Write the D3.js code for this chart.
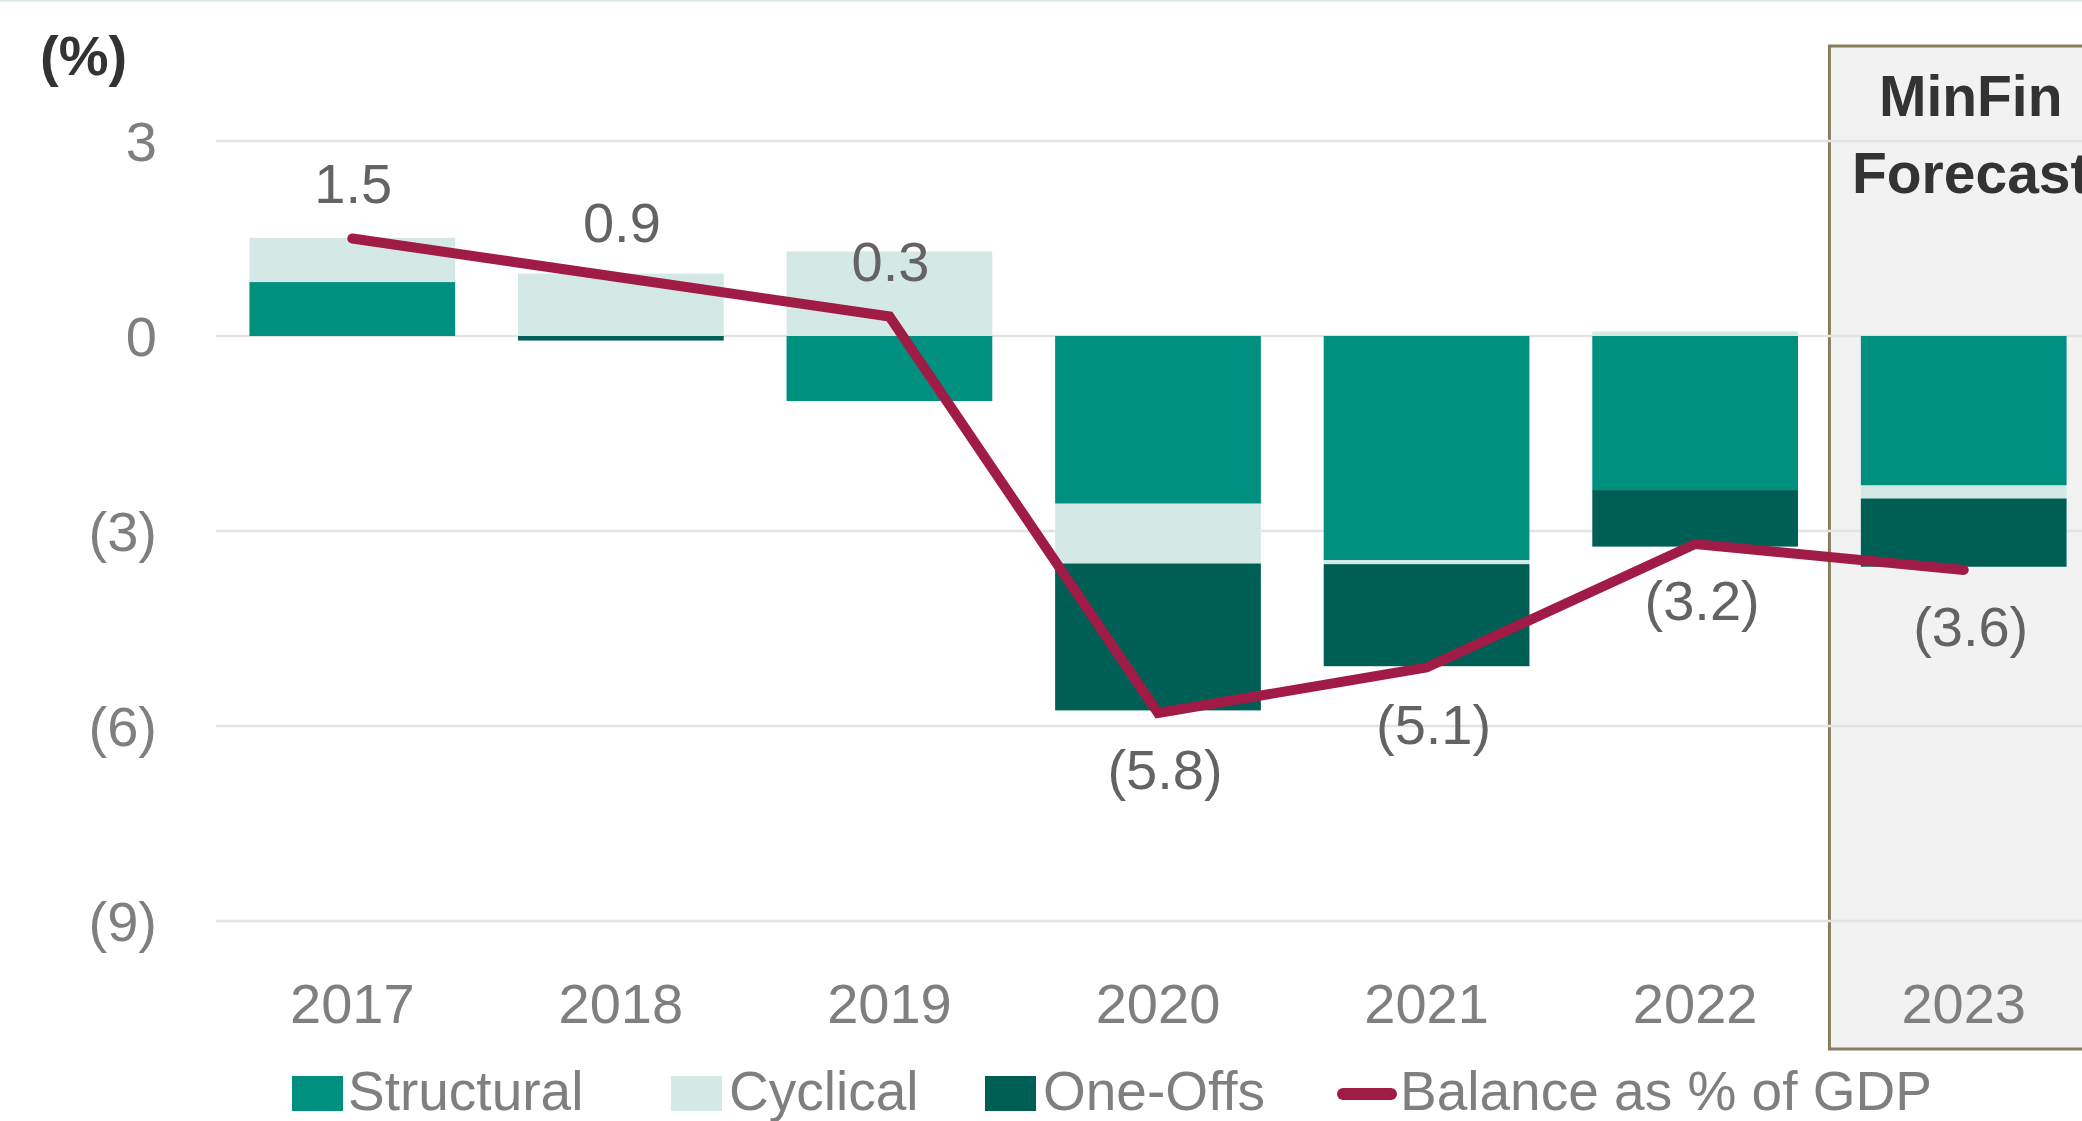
<!DOCTYPE html>
<html>
<head>
<meta charset="utf-8">
<script src="https://cdn.jsdelivr.net/npm/d3@7"></script>
<style>
  html, body { margin: 0; padding: 0; background: #ffffff; overflow: hidden; }
  svg { display: block; }
  text { font-family: "Liberation Sans", Arial, sans-serif; }
</style>
</head>
<body>
<script>
// ---- Data ----
const years = ["2017", "2018", "2019", "2020", "2021", "2022", "2023"];
const structural = [0.83, 0.0, -1.0, -2.58, -3.45, -2.37, -2.30];
const cyclical   = [0.68, 0.96, 1.30, -0.92, -0.06, 0.07, -0.20];
const oneOffs    = [0.0, -0.07, 0.0, -2.26, -1.57, -0.87, -1.05];
const balance    = [1.5, 0.9, 0.3, -5.8, -5.1, -3.2, -3.6];
const balanceLabels = ["1.5", "0.9", "0.3", "(5.8)", "(5.1)", "(3.2)", "(3.6)"];
const yTicks = [3, 0, -3, -6, -9];
const yTickLabels = ["3", "0", "(3)", "(6)", "(9)"];
const seriesNames = ["Structural", "Cyclical", "One-Offs"];
const lineName = "Balance as % of GDP";
const forecastYears = ["2023"];
const forecastTitle = ["MinFin", "Forecast"];

// ---- Styles ----
const W = 2082, H = 1121;
const colors = { Structural: "#00907F", Cyclical: "#D4E9E6", "One-Offs": "#005F54" };
const lineColor = "#A01C46";
const fontSize = 56;

const svg = d3.select("body").append("svg").attr("width", W).attr("height", H);

const x = d3.scaleBand().domain(years).range([218, 2098]).paddingInner(0.234).paddingOuter(0.117);
const y = d3.scaleLinear().domain([-9, 3]).range([921, 141]);

// top thin line
svg.append("line").attr("x1", 0).attr("x2", W).attr("y1", 0.5).attr("y2", 0.5)
  .attr("stroke", "#D4E9E6").attr("stroke-width", 2);

// forecast box
const fx0 = x(forecastYears[0]) - x.step() * x.paddingInner() / 2;
svg.append("rect").attr("x", fx0).attr("y", 46).attr("width", W - fx0 + 10).attr("height", 1049 - 46)
  .attr("fill", "#F2F2F2").attr("stroke", "#877D60").attr("stroke-width", 3);
forecastTitle.forEach((t, i) => {
  svg.append("text").attr("x", x(forecastYears[0]) + x.bandwidth() / 2 + 7).attr("y", 116 + i * 77)
    .attr("text-anchor", "middle").attr("font-size", 57).attr("font-weight", "bold")
    .attr("fill", "#333333").text(t);
});

// gridlines
svg.append("g").selectAll("line").data(yTicks).join("line")
  .attr("x1", 216).attr("x2", W).attr("y1", d => y(d)).attr("y2", d => y(d))
  .attr("stroke", "#E3E3E3").attr("stroke-width", 2.5);

// y tick labels
svg.append("g").selectAll("text").data(yTicks).join("text")
  .attr("x", 157).attr("y", d => y(d)).attr("dy", "0.36em")
  .attr("text-anchor", "end").attr("font-size", fontSize).attr("fill", "#7F7F7F")
  .text((d, i) => yTickLabels[i]);

// unit label
svg.append("text").attr("x", 40).attr("y", 75).attr("font-size", 56).attr("font-weight", "bold")
  .attr("fill", "#333333").text("(%)");

// stacked bars
const rows = years.map((yr, i) => ({ year: yr, Structural: structural[i], Cyclical: cyclical[i], "One-Offs": oneOffs[i] }));
const stack = d3.stack().keys(seriesNames).offset(d3.stackOffsetDiverging);
const stacked = stack(rows);
svg.append("g").selectAll("g").data(stacked).join("g")
  .attr("fill", d => colors[d.key])
  .selectAll("rect").data(d => d).join("rect")
  .attr("x", d => x(d.data.year)).attr("width", x.bandwidth())
  .attr("y", d => y(Math.max(d[0], d[1])))
  .attr("height", d => Math.abs(y(d[0]) - y(d[1])));

// balance line
const line = d3.line().x((d, i) => x(years[i]) + x.bandwidth() / 2).y(d => y(d));
svg.append("path").datum(balance).attr("d", line).attr("fill", "none")
  .attr("stroke", lineColor).attr("stroke-width", 10)
  .attr("stroke-linecap", "round").attr("stroke-linejoin", "miter");

// data labels
svg.append("g").selectAll("text").data(balance).join("text")
  .attr("x", (d, i) => x(years[i]) + x.bandwidth() / 2 + (d < 0 ? 7 : 1))
  .attr("y", d => d >= 0 ? y(d) - 36 : y(d) + 76)
  .attr("text-anchor", "middle").attr("font-size", fontSize).attr("fill", "#636363")
  .text((d, i) => balanceLabels[i]);

// x labels
svg.append("g").selectAll("text").data(years).join("text")
  .attr("x", d => x(d) + x.bandwidth() / 2).attr("y", 1023)
  .attr("text-anchor", "middle").attr("font-size", fontSize).attr("fill", "#7F7F7F")
  .text(d => d);

// legend
const legendItems = [
  { name: seriesNames[0], type: "rect", sx: 292, tx: 348 },
  { name: seriesNames[1], type: "rect", sx: 671, tx: 729 },
  { name: seriesNames[2], type: "rect", sx: 985, tx: 1043 },
  { name: lineName, type: "line", sx: 1337, tx: 1400 }
];
const lg = svg.append("g");
legendItems.forEach(it => {
  if (it.type === "rect") {
    lg.append("rect").attr("x", it.sx).attr("y", 1076).attr("width", 51).attr("height", 35)
      .attr("fill", colors[it.name]);
  } else {
    lg.append("line").attr("x1", it.sx + 6).attr("x2", it.sx + 54).attr("y1", 1094).attr("y2", 1094)
      .attr("stroke", lineColor).attr("stroke-width", 12).attr("stroke-linecap", "round");
  }
  lg.append("text").attr("x", it.tx).attr("y", 1110).attr("font-size", 55).attr("fill", "#7F7F7F")
    .text(it.name);
});
</script>
</body>
</html>
